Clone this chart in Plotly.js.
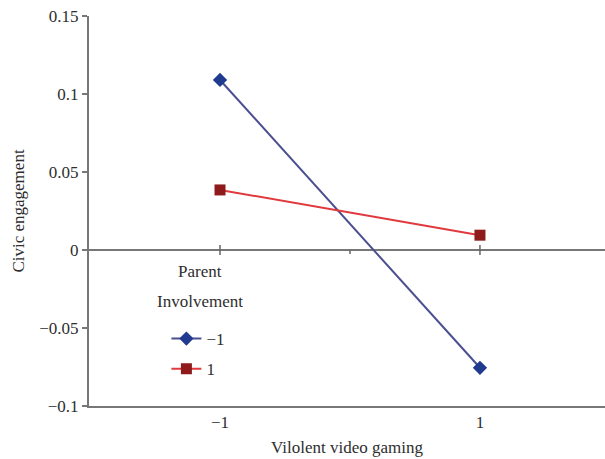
<!DOCTYPE html>
<html>
<head>
<meta charset="utf-8">
<script src="https://cdn.plot.ly/plotly-3.0.1.min.js"></script>
<style>html,body{margin:0;padding:0;background:#fff;}#chart{width:605px;height:459px;}</style>
</head>
<body>
<div id="chart"></div>
<script>
const gamingLevels = [-1, 1];
const seriesNames = ["\u22121", "1"];
const parentLow = [0.109, -0.0755];
const parentHigh = [0.0385, 0.0095];
const xTickVals = [-1, 1];
const xTickText = ["\u22121", "1"];
const yTickVals = [-0.1, -0.05, 0, 0.05, 0.1, 0.15];
const yTickText = ["\u22120.1", "\u22120.05", "0", "0.05", "0.1", "0.15"];
const zeroTicks = [-1, 0, 1];

const serif = "Liberation Serif, DejaVu Serif, serif";
const fs = 17;
const txt = "#2e2e2e";

const traces = [
  {
    x: gamingLevels, y: parentLow, name: seriesNames[0], type: "scatter", mode: "lines+markers",
    line: {color: "#4b4f8f", width: 2},
    marker: {symbol: "diamond", size: 11, color: "#1f3a8f"},
    legendgroup: "a"
  },
  {
    x: gamingLevels, y: parentHigh, name: seriesNames[1], type: "scatter", mode: "lines+markers",
    line: {color: "#e0393e", width: 2},
    marker: {symbol: "square", size: 11, color: "#8e1a1c"},
    legendgroup: "b"
  }
];

const shapes = [
  {type: "line", xref: "paper", yref: "y", x0: 0, x1: 1, y0: 0, y1: 0, line: {color: "#777", width: 2}, layer: "below"},
  {type: "line", xref: "paper", yref: "y", x0: -0.012, x1: 0, y0: 0, y1: 0, line: {color: "#777", width: 2}}
];
zeroTicks.forEach(function (v) {
  const big = v !== 0;
  shapes.push({type: "line", xref: "x", yref: "y", ysizemode: "pixel", yanchor: 0,
    x0: v, x1: v, y0: big ? -5 : -4, y1: big ? 5 : 0, line: {color: "#666", width: 1.5}});
});

const layout = {
  width: 605, height: 459,
  margin: {l: 89, r: 0, t: 16, b: 53},
  paper_bgcolor: "#fff", plot_bgcolor: "#fff",
  font: {family: serif, size: fs, color: txt},
  showlegend: true,
  legend: {
    x: 0.15, y: 0.218, xanchor: "left", yanchor: "top",
    font: {family: serif, size: fs, color: txt},
    tracegroupgap: 5, bgcolor: "rgba(0,0,0,0)"
  },
  xaxis: {
    range: [-2.008, 1.962],
    tickvals: xTickVals, ticktext: xTickText,
    showgrid: false, zeroline: false,
    showline: true, linecolor: "#777", linewidth: 2,
    ticks: "", tickfont: {family: serif, size: fs, color: txt},
    title: {text: "Vilolent video gaming", font: {family: serif, size: fs, color: txt}, standoff: 10},
    fixedrange: true
  },
  yaxis: {
    range: [-0.1, 0.15],
    tickvals: yTickVals, ticktext: yTickText,
    showgrid: false, zeroline: false,
    showline: true, linecolor: "#777", linewidth: 2,
    ticks: "outside", ticklen: 5, tickcolor: "#777", tickwidth: 1.5,
    tickfont: {family: serif, size: fs, color: txt},
    title: {text: "Civic engagement", font: {family: serif, size: fs, color: txt}, standoff: 10},
    fixedrange: true
  },
  shapes: shapes,
  annotations: [
    {text: "Parent", xref: "paper", yref: "paper", x: 0.215, y: 0.3436, xanchor: "center", yanchor: "middle", showarrow: false, font: {family: serif, size: fs, color: txt}},
    {text: "Involvement", xref: "paper", yref: "paper", x: 0.215, y: 0.269, xanchor: "center", yanchor: "middle", showarrow: false, font: {family: serif, size: fs, color: txt}}
  ]
};

Plotly.newPlot("chart", traces, layout, {displayModeBar: false, staticPlot: true});
</script>
</body>
</html>
